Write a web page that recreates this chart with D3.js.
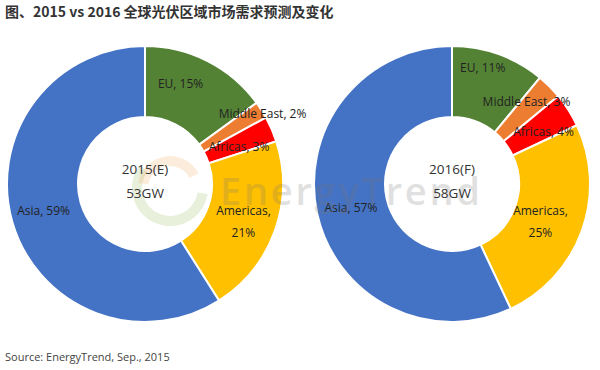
<!DOCTYPE html>
<html><head><meta charset="utf-8">
<script src="https://cdn.jsdelivr.net/npm/d3@7"></script>
<style>body{margin:0;background:#fff}svg{display:block}</style>
</head><body>
<svg id="c" width="600" height="370"></svg>
<script>
const categories = ["EU", "Middle East", "Africas", "Americas", "Asia"];
const values2015 = [15, 2, 3, 21, 59];
const values2016 = [11, 3, 4, 25, 57];
const centerLabels = [["2015(E)", "53GW"], ["2016(F)", "58GW"]];
const titleText = "图、2015 vs 2016 全球光伏区域市场需求预测及变化";
const sourceText = "Source: EnergyTrend, Sep., 2015";

const colors = d3.scaleOrdinal().domain(categories)
  .range(["#548235", "#ED7D31", "#FF0000", "#FFC000", "#4472C4"]);

const svg = d3.select("#c");
const font = "'Open Sans', 'Noto Sans CJK SC', sans-serif";

svg.append("text").attr("x", 5).attr("y", 17)
  .attr("font-family", "'Noto Sans CJK SC', sans-serif").attr("font-weight", "bold")
  .attr("font-size", 14).attr("fill", "#333").text(titleText);

svg.append("text").attr("x", 5).attr("y", 361)
  .attr("font-family", font).attr("font-size", 11).attr("fill", "#444").text(sourceText);

const R = 138, r = 67;
const pie = d3.pie().sort(null).value(d => d.v);
const arc = d3.arc().innerRadius(r).outerRadius(R);
const labelArc = d3.arc().innerRadius((r + R) / 2).outerRadius((r + R) / 2);

// faint watermark (drawn under labels)
function watermark() {
  const wm = svg.append("g").attr("pointer-events", "none");
  wm.append("path").attr("transform", "translate(170,188)")
    .attr("d", d3.arc().innerRadius(28).outerRadius(38).startAngle(Math.PI * 0.55).endAngle(Math.PI * 1.7)())
    .attr("fill", "#8db04a").attr("opacity", 0.2);
  wm.append("path").attr("transform", "translate(170,188)")
    .attr("d", d3.arc().innerRadius(22).outerRadius(32).startAngle(-Math.PI * 0.45).endAngle(Math.PI * 0.35)())
    .attr("fill", "#f0a050").attr("opacity", 0.2);
  wm.append("text").attr("x", 220).attr("y", 205)
    .attr("font-family", "'Open Sans', sans-serif").attr("font-size", 38).attr("font-weight", 600)
    .attr("textLength", 260).attr("fill", "#777").attr("opacity", 0.22).text("EnergyTrend");
}

// per-label nudges (Excel best-fit placement)
const nudges = [
  {EU: [-11, -9], "Middle East": [31, -15], Africas: [0, 4], Americas: [2, 3], Asia: [-3, -2]},
  {EU: [-4, -20], "Middle East": [2, -10], Africas: [5, 3], Americas: [-8, 3], Asia: [-1, 2]}
];
const twoLine = {Americas: true};

function donut(cx, cy, vals) {
  const g = svg.append("g").attr("transform", `translate(${cx},${cy})`);
  const data = pie(categories.map((c, i) => ({c, v: vals[i]})));
  g.selectAll("path").data(data).join("path")
    .attr("d", arc).attr("fill", d => colors(d.data.c))
    .attr("stroke", "#fff").attr("stroke-width", 2);
  return {g, data};
}

function labels(obj, idx) {
  const {g, data} = obj;
  data.forEach(d => {
    const [x, y] = labelArc.centroid(d);
    const n = nudges[idx][d.data.c];
    const t = g.append("text").attr("text-anchor", "middle")
      .attr("font-family", font).attr("font-size", 12).attr("fill", "#222");
    if (twoLine[d.data.c]) {
      t.append("tspan").attr("x", x + n[0]).attr("y", y + n[1] - 7).text(d.data.c + ",");
      t.append("tspan").attr("x", x + n[0]).attr("y", y + n[1] + 15).text(d.data.v + "%");
    } else {
      t.attr("x", x + n[0]).attr("y", y + n[1] + 4).text(d.data.c + ", " + d.data.v + "%");
    }
  });
  const lg = svg.append("g").attr("transform", g.attr("transform"));
  lg.append("text").attr("text-anchor", "middle").attr("y", -10)
    .attr("font-family", font).attr("font-size", 13.5).attr("fill", "#333").text(centerLabels[idx][0]);
  lg.append("text").attr("text-anchor", "middle").attr("y", 14)
    .attr("font-family", font).attr("font-size", 13.5).attr("fill", "#333").text(centerLabels[idx][1]);
}

const d1 = donut(145, 184, values2015);
const d2 = donut(452, 184, values2016);
watermark();
labels(d1, 0);
labels(d2, 1);
</script>
</body></html>
